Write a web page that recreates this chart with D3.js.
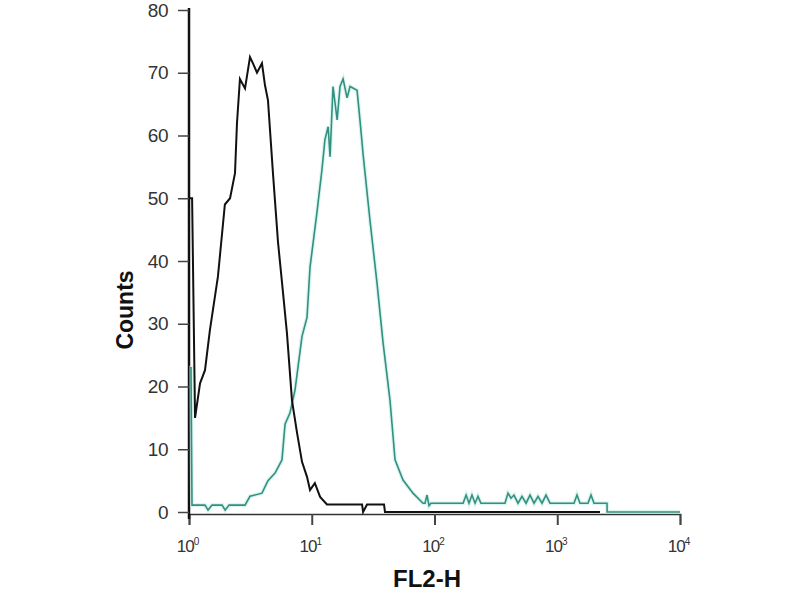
<!DOCTYPE html>
<html>
<head>
<meta charset="utf-8">
<script src="https://cdn.jsdelivr.net/npm/d3@7"></script>
<style>
  body { margin: 0; background: #fff; }
  text { font-family: "Liberation Sans", Arial, sans-serif; }
</style>
</head>
<body>
<div id="chart"></div>
<script>
// FL2-H value, counts
const controlX = [1, 1.06, 1.12, 1.23, 1.35, 1.48, 1.72, 1.96, 2.16, 2.37, 2.46, 2.60, 2.86, 3.14, 3.32, 3.58, 3.93, 4.16, 4.40, 4.83, 5.31, 5.83, 6.28, 6.90, 7.59, 8.33, 9.15, 9.68, 10.6, 11.7, 13.3, 25.7, 26.2, 28.2, 38.8, 39.5, 2230];
const controlY = [50, 50, 15, 20.5, 22.6, 29, 37.5, 49, 50, 54, 62, 69, 67.5, 72.5, 71.5, 70, 71.5, 68, 65.6, 54, 43, 35, 28.5, 17.8, 12.6, 8, 5.6, 3.5, 4.6, 2.4, 1.2, 1.2, 0, 1.2, 1.2, 0, 0];

const stainX = [1, 1.038, 1.058, 1.35, 1.43, 1.54, 1.86, 1.97, 2.12, 2.86, 3.14, 3.93, 4.40, 5.02, 5.72, 6.06, 6.65, 7.30, 8.33, 9.15, 9.68, 11.0, 12.1, 12.8, 13.6, 14.1, 14.9, 16.1, 17.0, 18.0, 19.4, 20.5, 23.4, 24.7, 26.2, 29.8, 34.0, 38.1, 43.4, 47.7, 55.4, 66.8, 80.6, 83.7, 86.9, 90.2, 93.6, 171, 181, 191, 202, 214, 226, 239, 375, 397, 420, 444, 479, 516, 557, 600, 647, 697, 751, 810, 873, 1369, 1448, 1532, 1780, 1884, 1993, 2543, 2550, 10000];
const stainY = [23, 23, 1.1, 1.1, 0.3, 1.1, 1.1, 0.3, 1.1, 1.1, 2.5, 3, 5, 6.2, 8.3, 14, 15.8, 19.4, 28, 31, 39, 47.6, 54.5, 59.3, 61.4, 56.6, 67.8, 62.5, 67.8, 69, 66, 67.8, 67.2, 62.5, 57, 46.5, 36.5, 27, 17.8, 8.3, 5.1, 3, 1.4, 1.4, 2.7, 1.0, 1.4, 1.4, 2.7, 1.4, 2.7, 1.4, 2.5, 1.4, 1.4, 3.0, 2.2, 2.7, 1.4, 2.5, 1.4, 2.7, 1.4, 2.5, 1.4, 2.7, 1.4, 1.4, 2.7, 1.4, 1.4, 2.7, 1.4, 1.4, 0, 0];

const xTicks = [1, 10, 100, 1000, 10000];
const yTicks = [0, 10, 20, 30, 40, 50, 60, 70, 80];

const width = 800, height = 600;

const svg = d3.select("#chart")
              .append("svg")
              .attr("width", width)
              .attr("height", height);

const x = d3.scaleLog()
            .domain([1, 10000])
            .range([189, 680]);

const y = d3.scaleLinear()
            .domain([0, 80])
            .range([512, 10]);

// x axis
const xAxis = svg.append("g")
   .attr("transform", "translate(0,514)")
   .call(d3.axisBottom(x).tickValues(xTicks).tickSize(11).tickFormat(""));
xAxis.select(".domain").attr("stroke", "#333").attr("stroke-width", 1.5);
xAxis.selectAll(".tick line").attr("stroke", "#444").attr("stroke-width", 2);

xAxis.selectAll(".tick").append("text")
   .attr("y", 38)
   .attr("x", -2)
   .attr("fill", "#333")
   .attr("font-size", 17)
   .attr("letter-spacing", -1)
   .attr("text-anchor", "middle")
   .each(function(d) {
     const t = d3.select(this);
     t.append("tspan").text("10");
     t.append("tspan").attr("dy", -7).attr("font-size", 10).text(Math.round(Math.log10(d)));
   });

// y axis
const yAxis = svg.append("g")
   .attr("transform", "translate(189,0)")
   .call(d3.axisLeft(y).tickValues(yTicks).tickSize(11).tickPadding(10));
yAxis.select(".domain").attr("d", "M0,8V519").attr("stroke", "#111").attr("stroke-width", 2.5);
yAxis.selectAll(".tick line").attr("stroke", "#444").attr("stroke-width", 1.5);
yAxis.selectAll(".tick text").attr("fill", "#333").attr("font-size", 19).attr("letter-spacing", -0.5);

const line = d3.line()
               .x(d => x(d[0]))
               .y(d => y(d[1]));

const stain = stainX.map((v, i) => [v, stainY[i]]);
const control = controlX.map((v, i) => [v, controlY[i]]);

svg.append("path")
   .datum(stain)
   .attr("fill", "none")
   .attr("stroke", "#b8ece4")
   .attr("stroke-width", 4)
   .attr("opacity", 0.5)
   .attr("d", line);

svg.append("path")
   .datum(stain)
   .attr("fill", "none")
   .attr("stroke", "#33907f")
   .attr("stroke-width", 1.6)
   .attr("d", line);

svg.append("path")
   .datum(control)
   .attr("fill", "none")
   .attr("stroke", "#111")
   .attr("stroke-width", 2)
   .attr("d", line);

svg.append("text")
   .attr("transform", "translate(133,310) rotate(-90)")
   .attr("text-anchor", "middle")
   .attr("font-size", 23)
   .attr("font-weight", "bold")
   .attr("fill", "#111")
   .text("Counts");

svg.append("text")
   .attr("x", 427)
   .attr("y", 587)
   .attr("text-anchor", "middle")
   .attr("font-size", 24)
   .attr("font-weight", "bold")
   .attr("fill", "#111")
   .text("FL2-H");
</script>
</body>
</html>
